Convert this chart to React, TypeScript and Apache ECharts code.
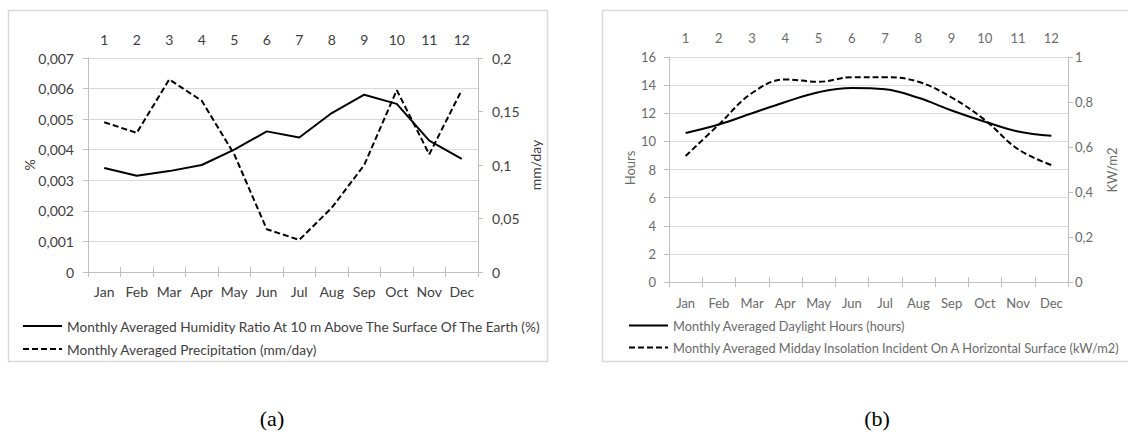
import React, { useEffect, useRef } from "react";
import * as echarts from "echarts";

const months = ["Jan", "Feb", "Mar", "Apr", "May", "Jun", "Jul", "Aug", "Sep", "Oct", "Nov", "Dec"];
const monthNumbers = ["1", "2", "3", "4", "5", "6", "7", "8", "9", "10", "11", "12"];

const humidityRatio = [0.0034, 0.00315, 0.0033, 0.0035, 0.004, 0.0046, 0.0044, 0.0052, 0.0058, 0.0055, 0.0043, 0.0037];
const precipitation = [0.14, 0.13, 0.18, 0.16, 0.11, 0.04, 0.03, 0.06, 0.1, 0.17, 0.11, 0.17];
const daylightHours = [10.6, 11.2, 12.0, 12.8, 13.5, 13.8, 13.7, 13.1, 12.2, 11.4, 10.7, 10.4];
const insolation = [0.56, 0.7, 0.84, 0.9, 0.89, 0.91, 0.91, 0.89, 0.82, 0.72, 0.59, 0.52];

const nameHumidity = "Monthly Averaged Humidity Ratio At 10 m Above The Surface Of The Earth (%)";
const namePrecip = "Monthly Averaged Precipitation (mm/day)";
const nameDaylight = "Monthly Averaged Daylight Hours (hours)";
const nameInsolation = "Monthly Averaged Midday Insolation Incident On A Horizontal Surface (kW/m2)";

const FONT = "Lato, 'Open Sans', sans-serif";
const SERIF = "'Liberation Serif', 'Times New Roman', serif";
const COL_A = "#404040";
const COL_B = "#6a6a6a";
const AXIS_COL = "#bfbfbf";
const GRID_COL = "#d9d9d9";

const fmt = (v: number) => String(parseFloat(v.toFixed(6))).replace(".", ",");

export default function App() {
  const ref = useRef<HTMLDivElement>(null);
  useEffect(() => {
    if (!ref.current) return;
    const chart = echarts.init(ref.current, undefined, { renderer: "svg" });

    const catAxis = (grid: number, pos: "top" | "bottom", data: string[], color: string, size: number, margin: number) => ({
      type: "category",
      gridIndex: grid,
      position: pos,
      data,
      boundaryGap: true,
      axisLine: { show: true, lineStyle: { color: AXIS_COL, width: 1 } },
      axisTick: { show: true, alignWithLabel: false, length: 5, lineStyle: { color: AXIS_COL } },
      axisLabel: { color, fontFamily: FONT, fontSize: size, margin, interval: 0 },
      splitLine: { show: false },
    });

    const valAxis = (
      grid: number,
      pos: "left" | "right",
      max: number,
      interval: number,
      color: string,
      size: number,
      margin: number,
      split: boolean
    ) => ({
      type: "value",
      gridIndex: grid,
      position: pos,
      min: 0,
      max,
      interval,
      axisLine: { show: true, lineStyle: { color: AXIS_COL, width: 1 } },
      axisTick: { show: true, length: 5, lineStyle: { color: AXIS_COL } },
      axisLabel: { color, fontFamily: FONT, fontSize: size, margin, formatter: fmt },
      splitLine: { show: split, lineStyle: { color: GRID_COL, width: 1 } },
    });

    const legendBase = {
      orient: "vertical",
      top: 319,
      itemWidth: 39,
      itemHeight: 14,
      itemGap: 9,
      padding: 0,
      itemStyle: { color: "transparent", borderWidth: 0, opacity: 0 },
    };

    const option: any = {
      animation: false,
      backgroundColor: "#ffffff",
      grid: [
        { left: 88, top: 58, width: 390, height: 214, containLabel: false },
        { left: 669, top: 57, width: 399, height: 225, containLabel: false },
      ],
      xAxis: [
        catAxis(0, "bottom", months, COL_A, 14, 12),
        catAxis(0, "top", monthNumbers, COL_A, 14, 12),
        catAxis(1, "bottom", months, COL_B, 13, 14),
        catAxis(1, "top", monthNumbers, COL_B, 13, 13),
      ],
      yAxis: [
        valAxis(0, "left", 0.007, 0.001, COL_A, 14, 14, true),
        valAxis(0, "right", 0.2, 0.05, COL_A, 14, 14, false),
        valAxis(1, "left", 16, 2, COL_B, 13, 13, true),
        valAxis(1, "right", 1, 0.2, COL_B, 13, 7, false),
      ],
      legend: [
        {
          ...legendBase,
          left: 22,
          data: [nameHumidity, namePrecip],
          textStyle: { color: COL_A, fontFamily: FONT, fontSize: 13.7 },
        },
        {
          ...legendBase,
          left: 628,
          data: [nameDaylight, nameInsolation],
          textStyle: { color: COL_B, fontFamily: FONT, fontSize: 12.8 },
        },
      ],
      series: [
        {
          name: nameHumidity,
          type: "line",
          xAxisIndex: 0,
          yAxisIndex: 0,
          data: humidityRatio,
          symbol: "none",
          lineStyle: { color: "#000", width: 2, type: "solid" },
          itemStyle: { color: "#000" },
        },
        {
          name: namePrecip,
          type: "line",
          xAxisIndex: 0,
          yAxisIndex: 1,
          data: precipitation,
          symbol: "none",
          lineStyle: { color: "#000", width: 2, type: [6, 3] },
          itemStyle: { color: "#000" },
        },
        {
          name: nameDaylight,
          type: "line",
          xAxisIndex: 2,
          yAxisIndex: 2,
          data: daylightHours,
          symbol: "none",
          smooth: 0.4,
          lineStyle: { color: "#000", width: 2, type: "solid" },
          itemStyle: { color: "#000" },
        },
        {
          name: nameInsolation,
          type: "line",
          xAxisIndex: 2,
          yAxisIndex: 3,
          data: insolation,
          symbol: "none",
          smooth: 0.4,
          lineStyle: { color: "#000", width: 2, type: [6, 3] },
          itemStyle: { color: "#000" },
        },
      ],
      graphic: [
        { type: "rect", shape: { x: 8.5, y: 10.5, width: 539, height: 351 }, style: { fill: "none", stroke: GRID_COL, lineWidth: 1.5 }, silent: true },
        { type: "rect", shape: { x: 602.5, y: 10.5, width: 540, height: 351 }, style: { fill: "none", stroke: GRID_COL, lineWidth: 1.5 }, silent: true },
        { type: "text", x: 29, y: 165, rotation: Math.PI / 2, style: { text: "%", fill: COL_A, font: `14px ${FONT}`, align: "center", verticalAlign: "middle" } },
        { type: "text", x: 535, y: 165, rotation: Math.PI / 2, style: { text: "mm/day", fill: COL_A, font: `14px ${FONT}`, align: "center", verticalAlign: "middle" } },
        { type: "text", x: 630, y: 168, rotation: Math.PI / 2, style: { text: "Hours", fill: COL_B, font: `13px ${FONT}`, align: "center", verticalAlign: "middle" } },
        { type: "text", x: 1112, y: 170, rotation: Math.PI / 2, style: { text: "KW/m2", fill: COL_B, font: `13px ${FONT}`, align: "center", verticalAlign: "middle" } },
        { type: "text", x: 272, y: 418, style: { text: "(a)", fill: "#000", font: `22px ${SERIF}`, align: "center", verticalAlign: "middle" } },
        { type: "text", x: 877, y: 418, style: { text: "(b)", fill: "#000", font: `22px ${SERIF}`, align: "center", verticalAlign: "middle" } },
      ],
    };
    chart.setOption(option);
    return () => chart.dispose();
  }, []);
  return <div ref={ref} style={{ position: "absolute", left: 0, top: 0, width: 1128, height: 432 }} />;
}
